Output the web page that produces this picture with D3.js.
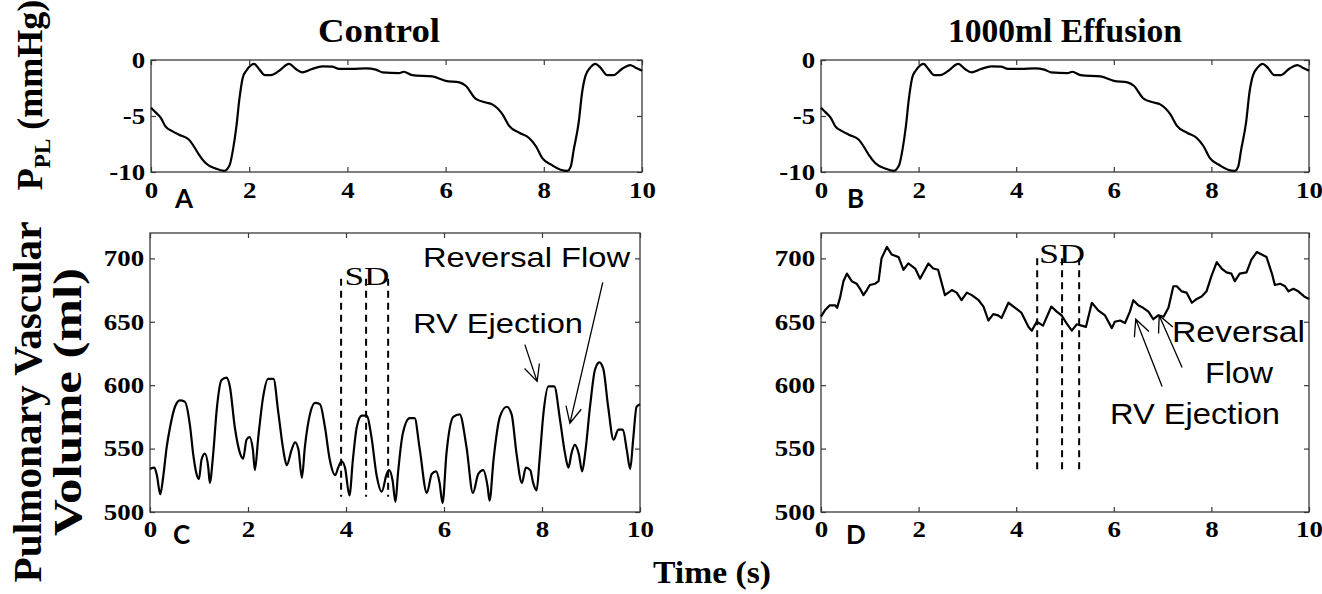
<!DOCTYPE html>
<html><head><meta charset="utf-8">
<script src="https://cdn.jsdelivr.net/npm/d3@7/dist/d3.min.js"></script>
<style>html,body{margin:0;padding:0;background:#fff;}svg{display:block;}</style>
</head><body><svg id="chart" width="1322" height="594"></svg>
<script>
// ---------------- DATA ----------------
const timeTicks = [0, 2, 4, 6, 8, 10];
const pplTicks = [0, -5, -10];
const volTicks = [500, 550, 600, 650, 700];
const panelTitles = ["Control", "1000ml Effusion"];
const panelLetters = ["A", "B", "C", "D"];

// pleural pressure (mmHg) – same trace in both conditions
const pplTime = [0,0.1,0.2,0.29,0.45,0.57,0.77,0.9,0.98,1.11,1.32,1.49,1.6,1.67,1.74,1.8,1.87,1.94,2.04,2.1,2.2,2.32,2.44,2.61,2.81,2.95,3.08,3.28,3.49,3.69,3.83,4.1,4.38,4.58,4.71,5.05,5.15,5.32,5.73,6.0,6.28,6.41,6.61,6.82,6.95,7.16,7.29,7.5,7.7,7.84,7.97,8.17,8.34,8.48,8.55,8.61,8.71,8.78,8.85,8.95,9.05,9.15,9.29,9.42,9.59,9.76,9.86,10];
const pplValues = [-4.26,-4.7,-5.16,-5.9,-6.4,-6.67,-7.1,-7.9,-8.47,-9.2,-9.7,-9.9,-9.4,-8.0,-5.9,-3.5,-1.56,-0.96,-0.45,-0.35,-0.8,-1.35,-1.35,-0.96,-0.35,-0.8,-1.1,-0.8,-0.57,-0.6,-0.8,-0.8,-0.74,-0.86,-1.1,-1.17,-1.05,-1.35,-1.47,-1.86,-2.0,-2.3,-3.45,-3.8,-3.96,-4.86,-5.86,-6.5,-6.96,-7.7,-8.77,-9.4,-9.8,-9.9,-9.5,-8.0,-5.6,-2.9,-1.4,-0.66,-0.35,-0.66,-1.35,-1.35,-0.8,-0.45,-0.66,-0.96];

// pulmonary vascular volume (ml) – control
const volControlTime = [0,0.09,0.14,0.21,0.27,0.34,0.41,0.51,0.61,0.71,0.82,0.88,0.95,1.0,1.05,1.12,1.19,1.22,1.29,1.36,1.46,1.56,1.63,1.73,1.84,1.9,1.97,2.03,2.1,2.14,2.21,2.31,2.41,2.52,2.62,2.72,2.79,2.89,2.96,3.03,3.1,3.16,3.27,3.37,3.47,3.57,3.67,3.78,3.84,3.91,3.98,4.07,4.14,4.22,4.32,4.42,4.52,4.62,4.73,4.83,4.88,4.95,5.01,5.06,5.16,5.3,5.4,5.5,5.65,5.75,5.84,5.91,5.97,6.05,6.19,6.32,6.46,6.59,6.7,6.8,6.89,6.93,7.01,7.14,7.28,7.38,7.48,7.59,7.67,7.76,7.82,7.89,7.95,8.03,8.13,8.25,8.37,8.47,8.54,8.6,8.67,8.75,8.82,8.88,8.98,9.08,9.17,9.25,9.35,9.46,9.56,9.65,9.73,9.8,9.86,9.93,10];
const volControl = [534,535,529,514,528,551,567,583,588,587,567,546,530,526,541,546,535,523,546,580,604,606,599,567,546,542,557,559,549,533,559,591,605,605,578,549,537,549,555,549,527,551,578,586,585,567,541,529,535,540,535,513,541,567,576,576,559,530,516,530,533,525,508,530,562,574,574,551,515,530,532,523,507,546,575,577,551,515,530,533,520,509,541,575,583,577,546,523,535,533,523,517,541,578,599,599,572,546,535,546,553,546,532,546,583,612,618,613,583,557,565,565,549,534,557,583,585];

// pulmonary vascular volume (ml) – 1000 ml effusion
const volEffusionTime = [0,0.08,0.18,0.29,0.33,0.39,0.46,0.53,0.63,0.73,0.8,0.87,0.94,1.0,1.11,1.18,1.24,1.35,1.45,1.59,1.69,1.79,1.93,2.03,2.2,2.3,2.4,2.54,2.68,2.78,2.88,2.99,3.09,3.23,3.33,3.43,3.53,3.63,3.7,3.84,3.98,4.11,4.25,4.32,4.42,4.55,4.72,4.83,4.93,5.03,5.14,5.24,5.34,5.43,5.55,5.68,5.82,5.96,6.02,6.13,6.23,6.33,6.4,6.5,6.6,6.71,6.81,6.91,7.02,7.12,7.22,7.29,7.39,7.49,7.6,7.7,7.8,7.9,8.0,8.11,8.21,8.31,8.41,8.48,8.58,8.72,8.82,8.93,9.03,9.13,9.24,9.3,9.41,9.51,9.58,9.68,9.78,9.9,10];
const volEffusion = [654,659,663,663,661,669,682,688,682,680,676,671,675,679,680,682,700,709,703,701,691,696,692,684,696,692,691,671,675,673,667,673,671,667,662,651,656,655,653,665,661,657,646,643,650,647,662,658,655,649,643,648,647,646,665,659,655,645,650,651,649,658,667,663,661,658,652,655,654,661,678,678,674,673,665,668,670,674,686,697,692,689,688,682,688,689,699,705,703,701,688,679,680,678,674,676,674,670,668];

// systole / diastole markers (time s) and their vertical extents (ml)
const sdControl = [3.9, 4.41, 4.86];
const sdControlRange = [512, 684];
const sdEffusion = [4.43, 4.94, 5.29];
const sdEffusionRange = [531, 700];

// annotation arrows [tail t, tail ml, head t, head ml]
const arrowsControl = [[7.65, 632, 7.9, 603], [9.24, 681, 8.57, 570]];
const arrowsEffusion = [[6.99, 599, 6.45, 652], [7.4, 614, 6.93, 655]];

// ---------------- LAYOUT ----------------
const svg = d3.select("#chart");
const SX = 1.17; // horizontal text stretch of the original figure
const SERIF = "'Liberation Serif','Times New Roman',serif";
const SANS = "'Liberation Sans',Arial,sans-serif";
const FRAME = "#3a3a3a";

const panels = {
  A: {x0: 151, x1: 642, y0: 60, y1: 172, ydom: [-10, 0], yt: pplTicks, pad: 10},
  B: {x0: 821, x1: 1309, y0: 60, y1: 172, ydom: [-10, 0], yt: pplTicks, pad: 10},
  C: {x0: 150, x1: 640, y0: 233, y1: 512, ydom: [500, 720], yt: volTicks, pad: 9},
  D: {x0: 821, x1: 1309, y0: 233, y1: 512, ydom: [500, 720], yt: volTicks, pad: 9}
};

function htext(x, y, str, size, opts = {}) {
  const t = svg.append("text")
    .attr("transform", `translate(${x},${y}) scale(${opts.sx || SX},1)` + (opts.rot ? ` rotate(${opts.rot})` : ""))
    .attr("text-anchor", opts.anchor || "middle")
    .attr("font-family", opts.family || SERIF)
    .attr("font-weight", opts.weight || "bold")
    .attr("font-size", size)
    .attr("fill", "#000");
  if (opts.len) t.attr("textLength", opts.len).attr("lengthAdjust", "spacingAndGlyphs");
  t.text(str);
  return t;
}

function setupPanel(p) {
  p.x = d3.scaleLinear().domain([0, 10]).range([p.x0, p.x1]);
  p.y = d3.scaleLinear().domain(p.ydom).range([p.y1, p.y0]);
  const g = svg.append("g");
  const styleAxis = sel => {
    sel.select(".domain").remove();
    sel.selectAll(".tick line").attr("stroke", FRAME).attr("stroke-width", 1.2);
  };
  const styleLabels = s => s.selectAll(".tick text").attr("font-family", SERIF).attr("font-weight", "bold")
      .attr("font-size", 23).attr("fill", "#000").attr("transform", `scale(${SX},1)`);
  g.append("g").attr("transform", `translate(0,${p.y1})`)
    .call(d3.axisBottom(p.x).tickValues(timeTicks).tickSize(-5).tickPadding(p.pad).tickFormat(d => String(d)))
    .call(styleAxis).call(styleLabels);
  g.append("g").attr("transform", `translate(0,${p.y0})`)
    .call(d3.axisTop(p.x).tickValues(timeTicks).tickSize(-5).tickFormat(""))
    .call(styleAxis);
  g.append("g").attr("transform", `translate(${p.x0},0)`)
    .call(d3.axisLeft(p.y).tickValues(p.yt).tickSize(-5).tickPadding(5).tickFormat(d => String(d)))
    .call(styleAxis).call(styleLabels);
  g.append("g").attr("transform", `translate(${p.x1},0)`)
    .call(d3.axisRight(p.y).tickValues(p.yt).tickSize(-5).tickFormat(""))
    .call(styleAxis);
  g.append("rect").attr("x", p.x0).attr("y", p.y0)
    .attr("width", p.x1 - p.x0).attr("height", p.y1 - p.y0)
    .attr("fill", "none").attr("stroke", FRAME).attr("stroke-width", 1.3);
  p.g = g;
}
Object.values(panels).forEach(setupPanel);

function drawLine(p, ts, vs, curve) {
  const pts = ts.map((t, i) => [t, vs[i]]);
  p.g.append("path").datum(pts)
    .attr("d", d3.line().x(d => p.x(d[0])).y(d => p.y(d[1])).curve(curve))
    .attr("fill", "none").attr("stroke", "#000").attr("stroke-width", 2.2)
    .attr("stroke-linejoin", "round");
}
drawLine(panels.A, pplTime, pplValues, d3.curveMonotoneX);
drawLine(panels.B, pplTime, pplValues, d3.curveMonotoneX);
drawLine(panels.C, volControlTime, volControl, d3.curveMonotoneX);
drawLine(panels.D, volEffusionTime, volEffusion, d3.curveLinear);

function drawSD(p, ts, range) {
  ts.forEach(t => {
    p.g.append("line")
      .attr("x1", p.x(t)).attr("x2", p.x(t))
      .attr("y1", p.y(range[1])).attr("y2", p.y(range[0]))
      .attr("stroke", "#000").attr("stroke-width", 2).attr("stroke-dasharray", "7,5");
  });
}
drawSD(panels.C, sdControl, sdControlRange);
drawSD(panels.D, sdEffusion, sdEffusionRange);

function drawArrow(p, a) {
  const x1 = p.x(a[0]), y1 = p.y(a[1]), x2 = p.x(a[2]), y2 = p.y(a[3]);
  const ang = Math.atan2(y1 - y2, x1 - x2);
  const L = 18, spread = 0.45;
  const path = d3.path();
  path.moveTo(x1, y1); path.lineTo(x2, y2);
  path.moveTo(x2 + L * Math.cos(ang - spread), y2 + L * Math.sin(ang - spread));
  path.lineTo(x2, y2);
  path.lineTo(x2 + L * Math.cos(ang + spread), y2 + L * Math.sin(ang + spread));
  p.g.append("path").attr("d", path.toString()).attr("fill", "none")
    .attr("stroke", "#000").attr("stroke-width", 1.3);
}
arrowsControl.forEach(a => drawArrow(panels.C, a));
arrowsEffusion.forEach(a => drawArrow(panels.D, a));

// ---------------- TEXT ----------------
htext(379, 42, panelTitles[0], 33, {len: 122, sx: 1});
htext(1065, 42, panelTitles[1], 33, {len: 234, sx: 1});

// y axis titles (rotated)
const yl = svg.append("text")
  .attr("transform", "translate(42,95) rotate(-90)")
  .attr("text-anchor", "middle").attr("font-family", SERIF).attr("font-weight", "bold")
  .attr("font-size", 36).attr("fill", "#000");
yl.append("tspan").text("P");
yl.append("tspan").attr("font-size", 23).attr("dy", 8).text("PL");
yl.append("tspan").attr("dy", -8).text(" (mmHg)");

htext(41, 402, "Pulmonary Vascular", 40, {rot: -90, sx: 1, len: 361});
htext(81, 402, "Volume (ml)", 40, {rot: -90, sx: 1, len: 268});

htext(712, 583, "Time (s)", 32, {len: 118, sx: 1});

// panel letters
const letterPos = [[175, 208], [847, 208], [173, 544], [846, 544]];
panelLetters.forEach((l, i) => htext(letterPos[i][0], letterPos[i][1], l, 26,
  {anchor: "start", family: "Lato,'Open Sans',sans-serif", sx: 1}));

// annotations
htext(367, 285, "SD", 26, {weight: "normal", len: 45, sx: 1});
htext(1062, 263, "SD", 27, {weight: "normal", len: 46, sx: 1});
htext(423, 267, "Reversal Flow", 28, {anchor: "start", family: SANS, weight: "normal", len: 207, sx: 1});
htext(413, 333, "RV Ejection", 28, {anchor: "start", family: SANS, weight: "normal", len: 170, sx: 1});
htext(1172, 342, "Reversal", 29, {anchor: "start", family: SANS, weight: "normal", len: 133, sx: 1});
htext(1205, 383, "Flow", 29, {anchor: "start", family: SANS, weight: "normal", len: 68, sx: 1});
htext(1110, 424, "RV Ejection", 29, {anchor: "start", family: SANS, weight: "normal", len: 170, sx: 1});
</script></body></html>
